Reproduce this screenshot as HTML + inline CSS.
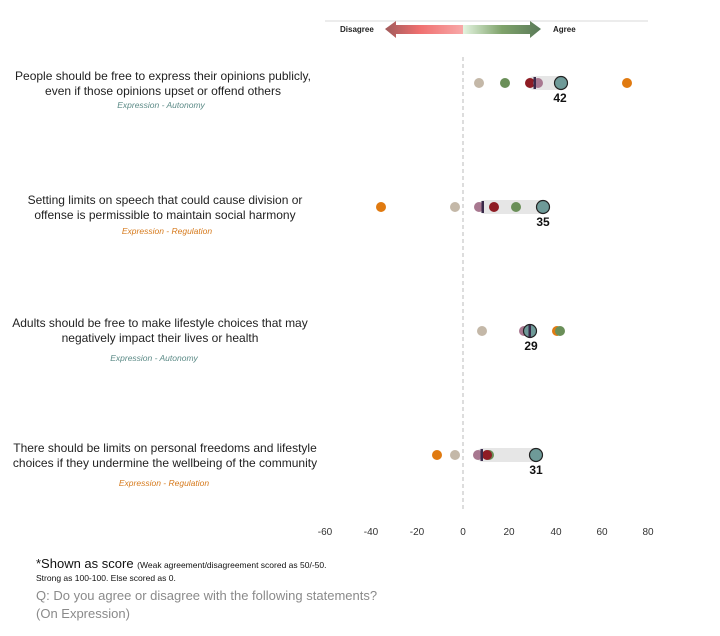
<!DOCTYPE html>
<html><head><meta charset="utf-8"><style>
html,body{margin:0;padding:0;background:#fff;}
svg{display:block;font-family:"Liberation Sans",sans-serif;}
</style></head><body>
<svg width="720" height="636" viewBox="0 0 720 636" xmlns="http://www.w3.org/2000/svg">
<defs>
<linearGradient id="gl" x1="0" x2="1" y1="0" y2="0"><stop offset="0" stop-color="#a05a5a"/><stop offset="0.45" stop-color="#f07070"/><stop offset="1" stop-color="#f8a8a8"/></linearGradient>
<linearGradient id="gr" x1="0" x2="1" y1="0" y2="0"><stop offset="0" stop-color="#e4f4e0"/><stop offset="0.5" stop-color="#7fa36b"/><stop offset="1" stop-color="#5a7a58"/></linearGradient>
</defs>
<line x1="325" y1="21" x2="648" y2="21" stroke="#d8d8d8" stroke-width="1"/>
<polygon points="385,29 396,21 396,25 463,25 463,34 396,34 396,38" fill="url(#gl)"/>
<polygon points="541,29 530,21 530,25 463,25 463,34 530,34 530,38" fill="url(#gr)"/>
<text x="340" y="32" font-size="8" font-weight="bold" fill="#222">Disagree</text>
<text x="553" y="32" font-size="8" font-weight="bold" fill="#222">Agree</text>
<line x1="463" y1="57" x2="463" y2="512" stroke="#bbb" stroke-width="1" stroke-dasharray="4,3"/>
<g font-size="12" fill="#222" text-anchor="middle">
<text x="163" y="80">People should be free to express their opinions publicly,</text>
<text x="163" y="95">even if those opinions upset or offend others</text>
<text x="165" y="204">Setting limits on speech that could cause division or</text>
<text x="165" y="219">offense is permissible to maintain social harmony</text>
<text x="160" y="327">Adults should be free to make lifestyle choices that may</text>
<text x="160" y="342">negatively impact their lives or health</text>
<text x="165" y="452">There should be limits on personal freedoms and lifestyle</text>
<text x="165" y="467">choices if they undermine the wellbeing of the community</text>
</g>
<g font-size="8.5" font-style="italic" text-anchor="middle">
<text x="161" y="108" fill="#5b8a86">Expression - Autonomy</text>
<text x="167" y="234" fill="#d67a1c">Expression - Regulation</text>
<text x="154" y="361" fill="#5b8a86">Expression - Autonomy</text>
<text x="164" y="486" fill="#d67a1c">Expression - Regulation</text>
</g>
<!-- Row1 -->
<rect x="527" y="76" width="40" height="14" rx="7" fill="#e6e6e6"/>
<circle cx="479" cy="83" r="5" fill="#c4b8a8"/>
<circle cx="505" cy="83" r="5" fill="#6a8f58"/>
<circle cx="530" cy="83" r="5" fill="#8e1c24"/>
<circle cx="538" cy="83" r="5" fill="#a87890"/>
<rect x="533.5" y="77" width="2.5" height="12" fill="#3a2a4a"/>
<circle cx="561" cy="83" r="6.5" fill="#6e9a98" stroke="#222" stroke-width="1.2"/>
<circle cx="627" cy="83" r="5" fill="#e07a10"/>
<text x="560" y="102" font-size="12" font-weight="bold" text-anchor="middle" fill="#111">42</text>
<!-- Row2 -->
<rect x="478" y="200" width="71" height="14" rx="7" fill="#e6e6e6"/>
<circle cx="381" cy="207" r="5" fill="#e07a10"/>
<circle cx="455" cy="207" r="5" fill="#c4b8a8"/>
<circle cx="479" cy="207" r="5" fill="#a87890"/>
<rect x="481.5" y="201" width="2.5" height="12" fill="#3a2a4a"/>
<circle cx="494" cy="207" r="5" fill="#8e1c24"/>
<circle cx="516" cy="207" r="5" fill="#6a8f58"/>
<circle cx="543" cy="207" r="6.5" fill="#6e9a98" stroke="#222" stroke-width="1.2"/>
<text x="543" y="226" font-size="12" font-weight="bold" text-anchor="middle" fill="#111">35</text>
<!-- Row3 -->
<circle cx="482" cy="331" r="5" fill="#c4b8a8"/>
<circle cx="524" cy="331" r="5" fill="#a87890"/>
<circle cx="557" cy="331" r="5" fill="#e07a10"/>
<circle cx="560" cy="331" r="5" fill="#6a8f58"/>
<circle cx="530" cy="331" r="6.5" fill="#6e9a98" stroke="#222" stroke-width="1.2"/>
<rect x="528.5" y="325" width="2.5" height="12" fill="#3a2a4a"/>
<text x="531" y="350" font-size="12" font-weight="bold" text-anchor="middle" fill="#111">29</text>
<!-- Row4 -->
<rect x="476" y="448" width="66" height="14" rx="7" fill="#e6e6e6"/>
<circle cx="437" cy="455" r="5" fill="#e07a10"/>
<circle cx="455" cy="455" r="5" fill="#c4b8a8"/>
<circle cx="478" cy="455" r="5" fill="#a87890"/>
<circle cx="489" cy="455" r="5" fill="#6a8f58"/>
<circle cx="487" cy="455" r="5" fill="#8e1c24"/>
<rect x="480.5" y="449" width="2.5" height="12" fill="#3a2a4a"/>
<circle cx="536" cy="455" r="6.5" fill="#6e9a98" stroke="#222" stroke-width="1.2"/>
<text x="536" y="474" font-size="12" font-weight="bold" text-anchor="middle" fill="#111">31</text>
<!-- axis labels -->
<g font-size="10" fill="#333" text-anchor="middle">
<text x="325" y="535">-60</text><text x="371" y="535">-40</text><text x="417" y="535">-20</text>
<text x="463" y="535">0</text><text x="509" y="535">20</text><text x="556" y="535">40</text>
<text x="602" y="535">60</text><text x="648" y="535">80</text>
</g>
<text x="36" y="568" font-size="13" fill="#111">*Shown as score <tspan font-size="8.5">(Weak agreement/disagreement scored as 50/-50.</tspan></text>
<text x="36" y="581" font-size="8.5" fill="#111">Strong as 100-100. Else scored as 0.</text>
<text x="36" y="600" font-size="13" fill="#8a8a8a">Q: Do you agree or disagree with the following statements?</text>
<text x="36" y="618" font-size="13" fill="#8a8a8a">(On Expression)</text>
</svg>
</body></html>
